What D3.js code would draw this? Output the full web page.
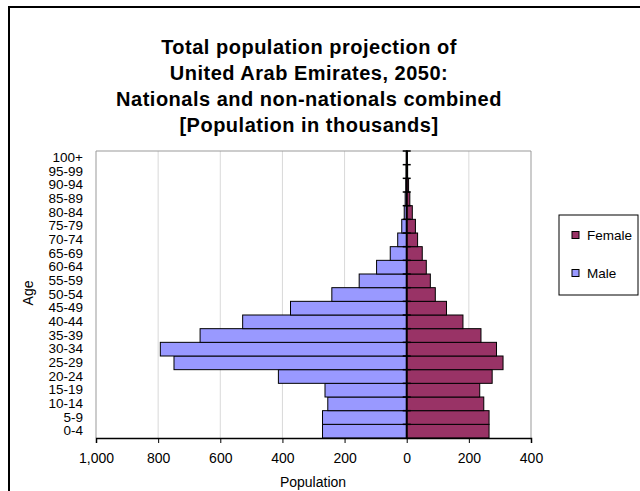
<!DOCTYPE html>
<html>

<head>
  <meta charset="utf-8">
  <title>UAE population pyramid 2050</title>
  <script src="https://cdnjs.cloudflare.com/ajax/libs/d3/7.8.5/d3.min.js"></script>
  <style>
    body {
      margin: 0;
      background: #fff;
    }

    svg {
      display: block;
      font-family: 'Liberation Sans', Arial, sans-serif;
    }

    .title {
      font-size: 20px;
      font-weight: bold;
      letter-spacing: 0.5px;
    }

    .tick text,
    .label {
      font-size: 14px;
      fill: #000;
    }

    .ylab .tick text {
      font-size: 13.5px;
    }
  </style>
</head>

<body>
  <svg id="chart" width="640" height="491"></svg>

  <script>
    // age groups, bottom to top
    const ages = ["0-4", "5-9", "10-14", "15-19", "20-24", "25-29", "30-34", "35-39", "40-44", "45-49",
      "50-54", "55-59", "60-64", "65-69", "70-74", "75-79", "80-84", "85-89", "90-94", "95-99", "100+"]

    // population in thousands
    const male = [271, 271, 254, 263, 413, 749, 793, 665, 528, 374, 241, 153, 97, 53, 29, 16, 8, 5, 3, 2, 1]
    const female = [265, 265, 248, 235, 275, 310, 289, 239, 181, 128, 92, 76, 63, 50, 35, 28, 18, 10, 6, 3, 2]

    const xTicks = [-1000, -800, -600, -400, -200, 0, 200, 400]

    const titleLines = ["Total population projection of", "United Arab Emirates, 2050:",
      "Nationals and non-nationals combined", "[Population in thousands]"]

    const legendItems = [
      { name: "Female", color: "#993366" },
      { name: "Male", color: "#9999FF" }
    ]

    const svg = d3.select("#chart")

    // chart frame
    svg.append("rect")
      .attr("x", 9).attr("y", 7)
      .attr("width", 700).attr("height", 600)
      .attr("fill", "none")
      .attr("stroke", "#000")
      .attr("stroke-width", 2)

    // title
    svg.append("text")
      .attr("class", "title")
      .attr("text-anchor", "middle")
      .selectAll("tspan")
      .data(titleLines)
      .join("tspan")
      .attr("x", 309)
      .attr("y", (d, i) => 54 + i * 26)
      .text(d => d)

    const plot = { left: 96, right: 531, top: 151, bottom: 438 }

    const x = d3.scaleLinear()
      .domain([-1000, 400])
      .range([plot.left, plot.right])

    const y = d3.scaleBand()
      .domain(ages.slice().reverse())
      .range([plot.top, plot.bottom])
      .padding(0)

    // gridlines
    svg.append("g")
      .selectAll("line")
      .data(xTicks.filter(d => d !== 0 && d !== -1000 && d !== 400))
      .join("line")
      .attr("x1", d => x(d)).attr("x2", d => x(d))
      .attr("y1", plot.top).attr("y2", plot.bottom)
      .attr("stroke", "#d9d9d9")

    // plot area border
    svg.append("path")
      .attr("d", `M${plot.left},${plot.bottom}V${plot.top}H${plot.right}V${plot.bottom}`)
      .attr("fill", "none")
      .attr("stroke", "#999")

    // bars
    const rows = ages.map((a, i) => ({ age: a, male: male[i], female: female[i] }))

    svg.append("g")
      .selectAll("rect")
      .data(rows)
      .join("rect")
      .attr("x", d => x(-d.male))
      .attr("y", d => y(d.age))
      .attr("width", d => x(0) - x(-d.male))
      .attr("height", y.bandwidth())
      .attr("fill", "#9999FF")
      .attr("stroke", "#000")

    svg.append("g")
      .selectAll("rect")
      .data(rows)
      .join("rect")
      .attr("x", x(0))
      .attr("y", d => y(d.age))
      .attr("width", d => x(d.female) - x(0))
      .attr("height", y.bandwidth())
      .attr("fill", "#993366")
      .attr("stroke", "#000")

    // category axis sits on zero, ticks between groups
    const zeroAxis = svg.append("g")
    zeroAxis.append("line")
      .attr("x1", x(0)).attr("x2", x(0))
      .attr("y1", plot.top).attr("y2", plot.bottom)
      .attr("stroke", "#000")
      .attr("stroke-width", 2)
    zeroAxis.selectAll(".tk")
      .data(ages)
      .join("line")
      .attr("class", "tk")
      .attr("x1", x(0) - 4).attr("x2", x(0) + 4)
      .attr("y1", d => y(d)).attr("y2", d => y(d))
      .attr("stroke", "#000")
      .attr("stroke-width", 1.5)

    // category labels at left edge
    svg.append("g")
      .attr("class", "ylab")
      .attr("transform", `translate(${plot.left},0)`)
      .call(d3.axisLeft(y).tickSize(0).tickPadding(13))
      .call(g => g.select(".domain").remove())
      .selectAll("text")
      .attr("font-family", "'Liberation Sans', Arial, sans-serif")

    // value axis
    svg.append("g")
      .attr("transform", `translate(0,${plot.bottom})`)
      .call(d3.axisBottom(x).tickValues(xTicks).tickSize(5).tickPadding(10)
        .tickFormat(d => d3.format(",")(Math.abs(d))))
      .call(g => g.select(".domain").attr("stroke", "#000").attr("stroke-width", 1.5))
      .call(g => g.selectAll(".tick line").attr("stroke", "#000"))
      .selectAll("text")
      .attr("font-family", "'Liberation Sans', Arial, sans-serif")

    // axis titles
    svg.append("text")
      .attr("class", "label")
      .attr("text-anchor", "middle")
      .attr("x", 313).attr("y", 487)
      .text("Population")

    svg.append("text")
      .attr("class", "label")
      .attr("text-anchor", "middle")
      .attr("transform", "translate(33,293) rotate(-90)")
      .text("Age")

    // legend
    const legend = svg.append("g")
    legend.append("rect")
      .attr("x", 559).attr("y", 215)
      .attr("width", 79).attr("height", 80)
      .attr("fill", "#fff")
      .attr("stroke", "#000")

    const item = legend.selectAll(".item")
      .data(legendItems)
      .join("g")
      .attr("class", "item")
      .attr("transform", (d, i) => `translate(572,${235 + i * 38})`)

    item.append("rect")
      .attr("x", 0).attr("y", -3.5)
      .attr("width", 7).attr("height", 7)
      .attr("fill", d => d.color)
      .attr("stroke", "#000")

    item.append("text")
      .attr("x", 15).attr("y", 5)
      .style("font-size", "13.5px")
      .text(d => d.name)
  </script>
</body>

</html>
